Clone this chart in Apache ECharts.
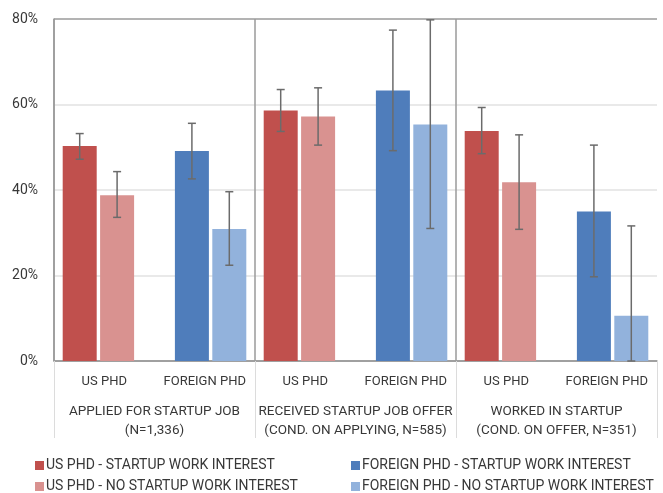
<!DOCTYPE html>
<html>
<head>
<meta charset="utf-8">
<script src="https://cdn.jsdelivr.net/npm/echarts@6/dist/echarts.min.js"></script>
<style>
html,body{margin:0;padding:0;background:#fff;}
#chart{width:663px;height:493px;}
</style>
</head>
<body>
<div id="chart"></div>
<script>
// ---- data ----
const panels = ['APPLIED FOR STARTUP JOB\n(N=1,336)', 'RECEIVED STARTUP JOB OFFER\n(COND. ON APPLYING, N=585)', 'WORKED IN STARTUP\n(COND. ON OFFER, N=351)'];
const groups = ['US PHD', 'FOREIGN PHD', 'US PHD', 'FOREIGN PHD', 'US PHD', 'FOREIGN PHD'];
const yTicks = [0, 20, 40, 60, 80];

const seriesNames = ['US PHD - STARTUP WORK INTEREST', 'US PHD - NO STARTUP WORK INTEREST', 'FOREIGN PHD - STARTUP WORK INTEREST', 'FOREIGN PHD - NO STARTUP WORK INTEREST'];

const usInterest = [50.3, 58.6, 53.8];
const usInterestLow = [47.2, 53.7, 48.5];
const usInterestHigh = [53.2, 63.5, 59.3];

const usNoInterest = [38.8, 57.2, 41.8];
const usNoInterestLow = [33.6, 50.5, 30.8];
const usNoInterestHigh = [44.3, 63.9, 52.9];

const foreignInterest = [49.1, 63.3, 35.0];
const foreignInterestLow = [42.6, 49.2, 19.7];
const foreignInterestHigh = [55.6, 77.4, 50.5];

const foreignNoInterest = [30.9, 55.3, 10.6];
const foreignNoInterestLow = [22.4, 31.0, 0];
const foreignNoInterestHigh = [39.6, 79.8, 31.6];

// ---- style ----
const colors = ['#C0504D', '#D99290', '#4F7DBB', '#92B2DC'];
const BAR_W = 34;
const GAP = 0.1;
const STEP = BAR_W * (1 + GAP);
const FONT = 'Roboto, "Noto Sans", sans-serif';
const TEXT = '#383838';

// slots: -2 red, -1 pink, 0 spacer, 1 blue, 2 light blue
const errSets = [
  [usInterestLow, usInterestHigh, -2],
  [usNoInterestLow, usNoInterestHigh, -1],
  [foreignInterestLow, foreignInterestHigh, 1],
  [foreignNoInterestLow, foreignNoInterestHigh, 2]
];
const errData = [];
errSets.forEach(function (s) {
  for (let i = 0; i < panels.length; i++) errData.push([i, s[0][i], s[1][i], s[2]]);
});

function bar(name, data, color) {
  return {
    name: name, type: 'bar', xAxisIndex: 0, data: data,
    barWidth: BAR_W, barGap: (GAP * 100) + '%',
    itemStyle: { color: color }
  };
}

function legend(names, left) {
  return {
    data: names, orient: 'vertical', left: left, top: 458, height: 60, padding: 0,
    icon: 'rect', itemWidth: 9, itemHeight: 9, itemGap: 6,
    textStyle: { fontFamily: FONT, fontSize: 14, color: TEXT, lineHeight: 15, padding: [0, 0, 0, -3] }
  };
}

const chart = echarts.init(document.getElementById('chart'), null, { renderer: 'canvas' });
chart.setOption({
  backgroundColor: '#fff',
  animation: false,
  textStyle: { fontFamily: FONT },
  grid: { left: 54, right: 6, top: 19, bottom: 132, containLabel: false },
  legend: [
    legend([seriesNames[0], seriesNames[1]], 35),
    legend([seriesNames[2], seriesNames[3]], 351)
  ],
  xAxis: [
    {
      type: 'category', data: panels, position: 'bottom', boundaryGap: true,
      axisLine: { show: true, lineStyle: { color: '#9a9a9a', width: 1.5 } },
      axisTick: { show: true, interval: 0, length: 77, lineStyle: { color: '#dcdcdc', width: 1 } },
      splitLine: { show: true, interval: 0, lineStyle: { color: ['#9a9a9a', '#9a9a9a', '#9a9a9a', 'rgba(0,0,0,0)'], width: 1.5 } },
      axisLabel: { interval: 0, fontSize: 13.5, color: TEXT, margin: 41, lineHeight: 19, fontFamily: FONT }
    },
    {
      type: 'category', data: groups, position: 'bottom', offset: 0, boundaryGap: true,
      axisLine: { show: false }, axisTick: { show: false }, splitLine: { show: false },
      axisLabel: { interval: 0, fontSize: 13, color: TEXT, margin: 14, fontFamily: FONT }
    }
  ],
  yAxis: {
    type: 'value', min: yTicks[0], max: yTicks[yTicks.length - 1], interval: 20,
    axisLine: { show: true, lineStyle: { color: '#9a9a9a', width: 1.5 } },
    axisTick: { show: false },
    splitLine: { show: true, lineStyle: { color: ['#9a9a9a', '#e2e2e2', '#e2e2e2', '#e2e2e2', '#9a9a9a'], width: 1.5 } },
    axisLabel: { formatter: '{value}%', fontSize: 14, color: TEXT, margin: 16, fontFamily: FONT }
  },
  series: [
    bar(seriesNames[0], usInterest, colors[0]),
    bar(seriesNames[1], usNoInterest, colors[1]),
    { name: 'spacer', type: 'bar', xAxisIndex: 0, data: panels.map(function () { return null; }), barWidth: BAR_W, barGap: (GAP * 100) + '%' },
    bar(seriesNames[2], foreignInterest, colors[2]),
    bar(seriesNames[3], foreignNoInterest, colors[3]),
    {
      type: 'custom', name: 'error', xAxisIndex: 0, data: errData, z: 10,
      encode: { x: 0, y: [1, 2] },
      renderItem: function (params, api) {
        const c = api.value(0);
        const lo = api.coord([c, api.value(1)]);
        const hi = api.coord([c, api.value(2)]);
        const x = lo[0] + api.value(3) * STEP;
        const cap = 4;
        const st = { stroke: '#6b6b6b', lineWidth: 1.5 };
        return {
          type: 'group',
          children: [
            { type: 'line', shape: { x1: x, y1: hi[1], x2: x, y2: lo[1] }, style: st },
            { type: 'line', shape: { x1: x - cap, y1: hi[1], x2: x + cap, y2: hi[1] }, style: st },
            { type: 'line', shape: { x1: x - cap, y1: lo[1], x2: x + cap, y2: lo[1] }, style: st }
          ]
        };
      }
    }
  ]
});
</script>
</body>
</html>
